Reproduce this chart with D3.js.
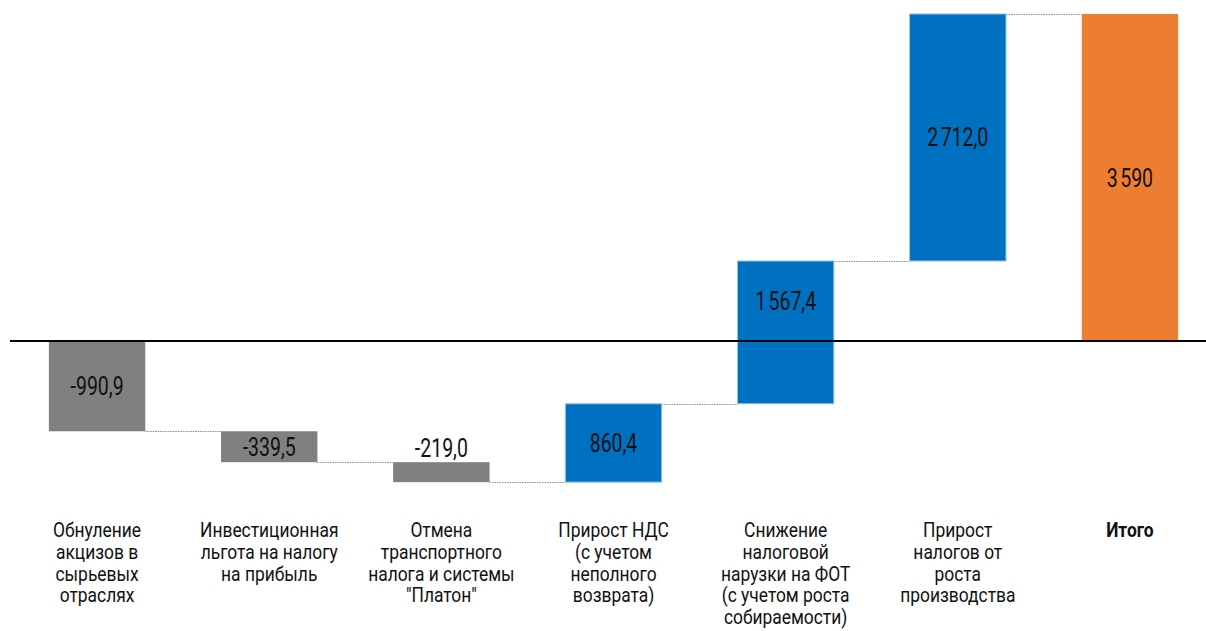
<!DOCTYPE html>
<html lang="ru">
<head>
<meta charset="utf-8">
<script src="https://cdn.jsdelivr.net/npm/d3@7"></script>
<style>
  html, body { margin: 0; padding: 0; background: #fff; }
  svg { display: block; }
  text { font-family: "Roboto", "Liberation Sans", sans-serif; fill: #111; }
</style>
</head>
<body>
<svg id="chart" width="1206" height="631"></svg>
<script>
// Waterfall components, bn rubles
const categories = [
  "Обнуление\nакцизов в\nсырьевых\nотраслях",
  "Инвестиционная\nльгота на налогу\nна прибыль",
  "Отмена\nтранспортного\nналога и системы\n\"Платон\"",
  "Прирост НДС\n(с учетом\nнеполного\nвозврата)",
  "Снижение\nналоговой\nнарузки на ФОТ\n(с учетом роста\nсобираемости)",
  "Прирост\nналогов от\nроста\nпроизводства",
  "Итого"
];
const deltas = [-990.9, -339.5, -219.0, 860.4, 1567.4, 2712.0];
const total = 3590;

const colors = { neg: "#808080", pos: "#0070C0", total: "#ED7D31" };

const W = 1206, H = 631;
const svg = d3.select("#chart");

const x = d3.scaleBand()
  .domain(categories)
  .range([11, 1216])
  .paddingInner(0.44)
  .paddingOuter(0.22);

const y = d3.scaleLinear().domain([0, total]).range([341, 14]);

// running start/end for each step
let run = 0;
const steps = deltas.map((v, i) => {
  const start = run; run += v;
  return { cat: categories[i], value: v, start, end: run, type: v < 0 ? "neg" : "pos" };
});
steps.push({ cat: categories[6], value: total, start: 0, end: total, type: "total" });

// Russian number format: comma decimals, narrow space for thousands
const ru = d3.formatLocale({ decimal: ",", thousands: "\u202F", grouping: [3], currency: ["", ""], minus: "-" });
const f1 = ru.format(",.1f"), f0 = ru.format(",.0f");

// dotted connectors between consecutive bars
svg.append("g").selectAll("line")
  .data(steps.slice(0, -1))
  .join("line")
  .attr("x1", d => x(d.cat) + x.bandwidth())
  .attr("x2", (d, i) => x(steps[i + 1].cat))
  .attr("y1", d => Math.round(y(d.end)) + 0.5)
  .attr("y2", d => Math.round(y(d.end)) + 0.5)
  .attr("stroke", "#8a8a8a")
  .attr("stroke-width", 1)
  .attr("stroke-dasharray", "1.5,1");

// bars
svg.append("g").selectAll("rect")
  .data(steps)
  .join("rect")
  .attr("x", d => x(d.cat))
  .attr("width", x.bandwidth())
  .attr("y", d => y(Math.max(d.start, d.end)))
  .attr("height", d => Math.abs(y(d.start) - y(d.end)))
  .attr("fill", d => colors[d.type])
  .attr("stroke", d => d.type === "pos" ? "#9cc3e8" : "none")
  .attr("stroke-width", 1);

// zero line
svg.append("line")
  .attr("x1", 10).attr("x2", W)
  .attr("y1", y(0)).attr("y2", y(0))
  .attr("stroke", "#000").attr("stroke-width", 2);

// value labels: centred on the bar's part above zero when it crosses the axis,
// otherwise in the bar; above the bar when it is too short
function labelY(d) {
  let lo = Math.min(d.start, d.end), hi = Math.max(d.start, d.end);
  if (lo < 0 && hi > 0) lo = 0;
  const top = y(hi), bot = y(lo);
  return (bot - top) < 26 ? top - 14 : (top + bot) / 2;
}
svg.append("g").selectAll("text")
  .data(steps)
  .join("text")
  .attr("transform", d => `translate(${x(d.cat) + x.bandwidth() / 2},${labelY(d)}) scale(0.78,1)`)
  .attr("dy", "0.36em")
  .attr("text-anchor", "middle")
  .style("font-size", "25px")
  .text(d => d.type === "total" ? f0(d.value) : f1(d.value));

// category labels
const lab = svg.append("g").selectAll("text")
  .data(categories)
  .join("text")
  .attr("text-anchor", "middle")
  .attr("transform", d => `translate(${x(d) + x.bandwidth() / 2},537) scale(0.87,1)`)
  .style("font-size", "20px")
  .style("font-weight", (d, i) => i === categories.length - 1 ? "bold" : "normal");

lab.selectAll("tspan")
  .data(d => d.split("\n"))
  .join("tspan")
  .attr("x", 0)
  .attr("dy", (d, i) => i === 0 ? 0 : 21.8)
  .text(d => d);
</script>
</body>
</html>
